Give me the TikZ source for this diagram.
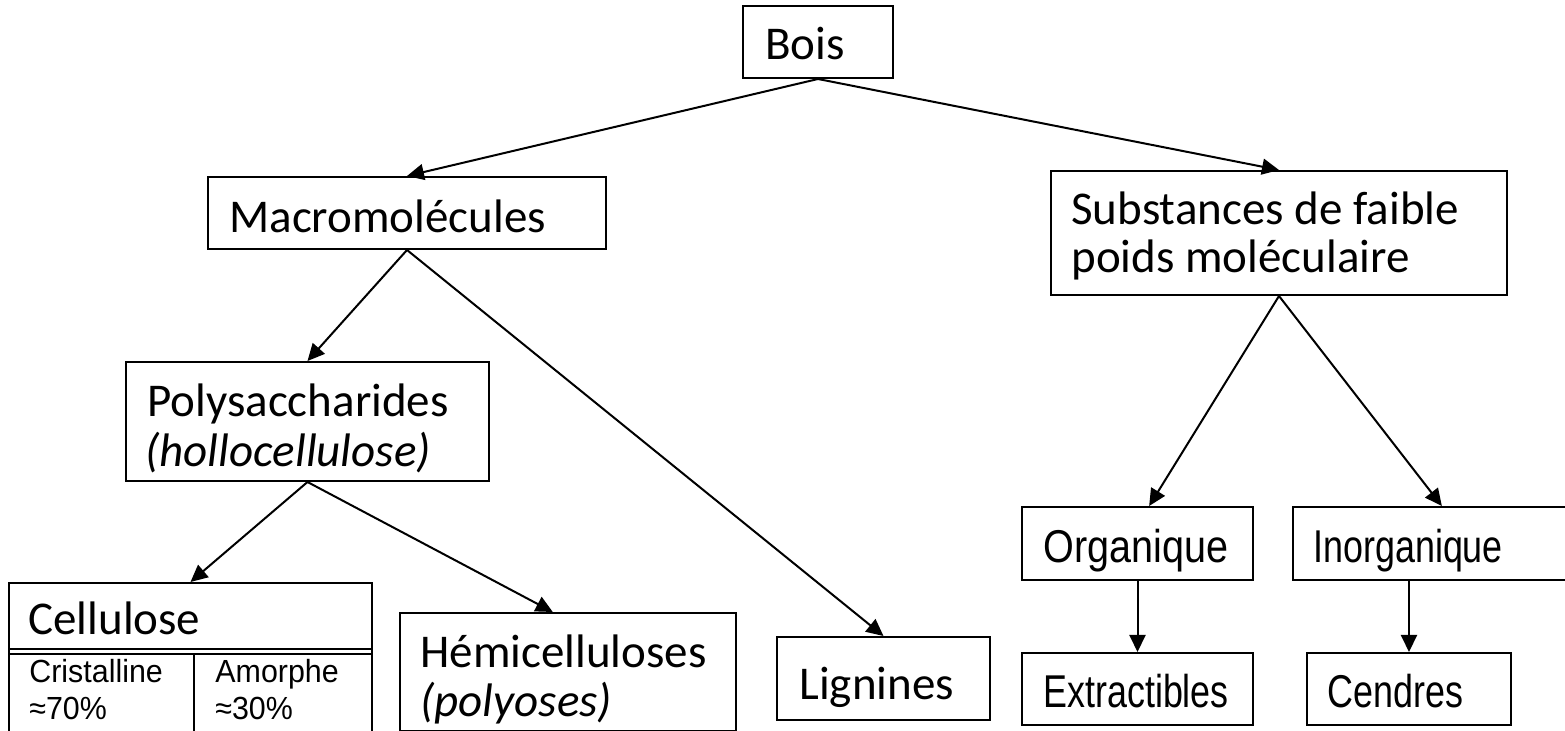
\documentclass[tikz,border=0pt]{standalone}
\usepackage{fontspec}
\setmainfont{Carlito}
\newfontfamily\arA[FakeStretch=0.78]{Liberation Sans}
\newfontfamily\arB[FakeStretch=0.86]{Liberation Sans}
\newfontfamily\arC[FakeStretch=0.95]{Liberation Sans}
\usetikzlibrary{fit,calc,arrows.meta}
\begin{document}
\begin{tikzpicture}[x=0.5pt,y=-0.5pt,
  box/.style={draw, line width=1pt, inner sep=0pt},
  txt/.style={anchor=base west, inner sep=0pt, font=\fontsize{23.5}{28}\selectfont},
  itxt/.style={anchor=base west, inner sep=0pt, font=\fontsize{23.5}{28}\selectfont\itshape},
  narA/.style={anchor=base west, inner sep=0pt, font=\fontsize{23}{28}\selectfont\arA},
  narB/.style={anchor=base west, inner sep=0pt, font=\fontsize{23}{28}\selectfont\arB},
  small/.style={anchor=base west, inner sep=0pt, font=\fontsize{16}{19}\selectfont\arC},
  sep/.style={line width=0.8pt},
  arr/.style={line width=1pt, -{Triangle[length=8.5pt,width=8pt]}}]
\useasboundingbox (0,0) rectangle (1565,731);
\clip (0,0) rectangle (1565,731);
\fill[white] (0,0) rectangle (1565,731);
% boxes
\node[box, fit={(743,6)(893,78)}] (bois) {};
\node[box, fit={(208,177)(606,249)}] (macro) {};
\node[box, fit={(1051,171)(1507,295)}] (subs) {};
\node[box, fit={(126,362)(489,481)}] (poly) {};
\node[box, fit={(9,583)(372,760)}] (cell) {};
\node[box, fit={(400,613)(736,731)}] (hemi) {};
\node[box, fit={(777,637)(990,720)}] (lig) {};
\node[box, fit={(1022,507)(1253,580)}] (org) {};
\node[box, fit={(1293,507)(1600,580)}] (inorg) {};
\node[box, fit={(1022,653)(1253,725)}] (ext) {};
\node[box, fit={(1307,653)(1511,725)}] (cend) {};
% cellulose inner lines
\draw[sep] (9,649) -- (372,649);
\draw[sep] (9,654) -- (372,654);
\draw[sep] (194,654) -- (194,760);
% texts
\node[txt] (tbois) at (765,60) {Bois};
\node[txt] (tmacro) at (229,233) {Macromolécules};
\node[txt] (tsubs1) at (1071,225) {Substances de faible};
\node[txt] (tsubs2) at (1071,273) {poids moléculaire};
\node[txt] (tpoly1) at (147,417) {Polysaccharides};
\node[itxt] (tpoly2) at (145,467) {(hollocellulose)};
\node[txt] (tcell) at (28,635) {Cellulose};
\node[small] (tcri1) at (29,683) {Cristalline};
\node[small] (tcri2) at (29,720) {≈70\%};
\node[small] (tamo1) at (215,683) {Amorphe};
\node[small] (tamo2) at (215,720) {≈30\%};
\node[txt] (themi1) at (420,668) {Hémicelluloses};
\node[itxt] (themi2) at (420,717) {(polyoses)};
\node[txt] (tlig) at (799,700) {Lignines};
\node[narB] (torg) at (1043,563) {Organique};
\node[narA] (tinorg) at (1313,563) {Inorganique};
\node[narA] (text) at (1043,708) {Extractibles};
\node[narA] (tcend) at (1327,708) {Cendres};
% connectors
\draw[arr] (bois.south) -- (macro.north);
\draw[arr] (bois.south) -- (subs.north);
\draw[arr] (macro.south) -- (poly.north);
\draw[arr] (macro.south) -- (lig.north);
\draw[arr] (poly.south) -- (cell.north);
\draw[arr] (poly.south) -- ($(hemi.north west)!0.455!(hemi.north east)$);
\draw[arr] (subs.south) -- ($(org.north west)!0.55!(org.north east)$);
\draw[arr] (subs.south) -- ($(inorg.north west)!0.485!(inorg.north east)$);
\draw[arr] (org.south) -- (ext.north);
\draw[arr] (cend.north |- inorg.south) -- (cend.north);
\end{tikzpicture}
\end{document}
